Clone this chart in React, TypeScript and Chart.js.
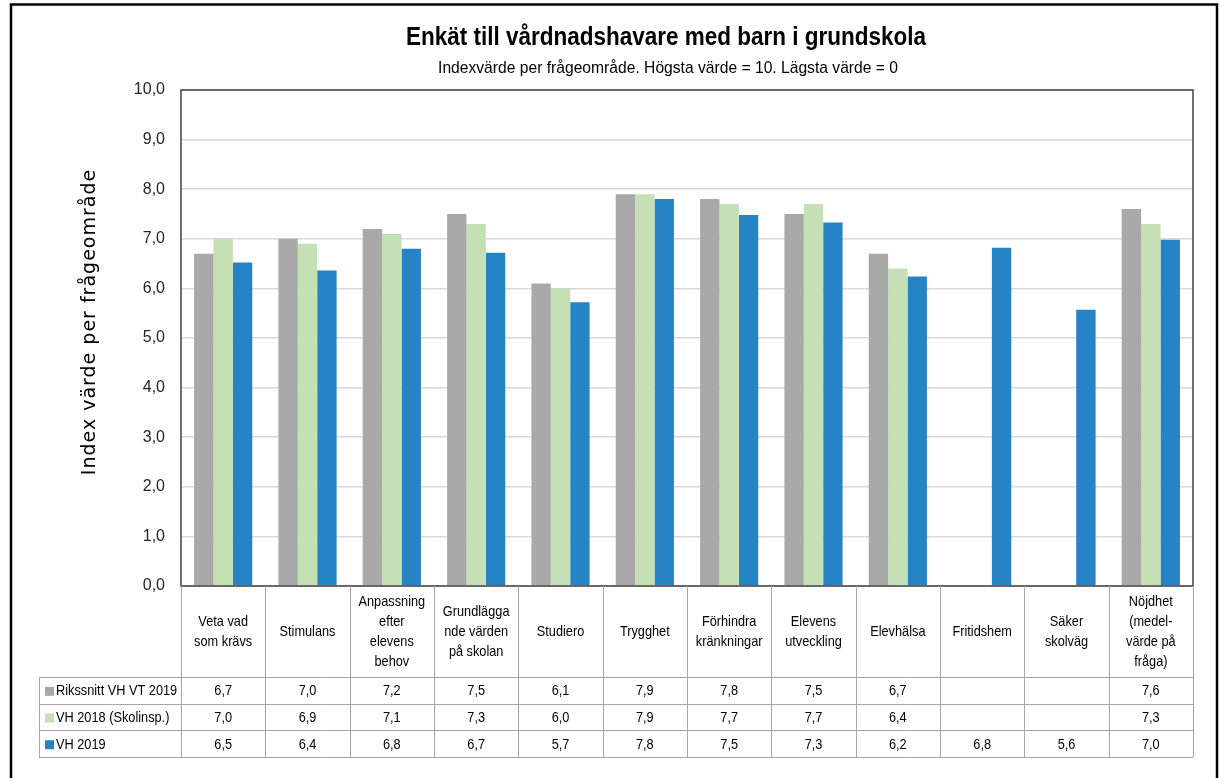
import React, { useEffect, useRef } from "react";
import { Chart, registerables } from "chart.js";

Chart.register(...registerables);

const TITLE = "Enkät till vårdnadshavare med barn i grundskola";
const SUBTITLE = "Indexvärde per frågeområde. Högsta värde = 10. Lägsta värde = 0";
const Y_TITLE = "Index värde per frågeområde";

const categories: string[][] = [
  ["Veta vad", "som krävs"],
  ["Stimulans"],
  ["Anpassning", "efter", "elevens", "behov"],
  ["Grundlägga", "nde värden", "på skolan"],
  ["Studiero"],
  ["Trygghet"],
  ["Förhindra", "kränkningar"],
  ["Elevens", "utveckling"],
  ["Elevhälsa"],
  ["Fritidshem"],
  ["Säker", "skolväg"],
  ["Nöjdhet", "(medel-", "värde på", "fråga)"],
];

const seriesNames = ["Rikssnitt VH VT 2019", "VH 2018 (Skolinsp.)", "VH 2019"];
const rikssnitt: (number | null)[] = [6.7, 7.0, 7.2, 7.5, 6.1, 7.9, 7.8, 7.5, 6.7, null, null, 7.6];
const vh2018: (number | null)[] = [7.0, 6.9, 7.1, 7.3, 6.0, 7.9, 7.7, 7.7, 6.4, null, null, 7.3];
const vh2019: (number | null)[] = [6.52, 6.36, 6.8, 6.72, 5.72, 7.8, 7.48, 7.33, 6.24, 6.82, 5.57, 6.98];
const seriesColors = ["#A9A9A9", "#C5E0B4", "#2683C6"];

const SANS = '"Liberation Sans", Arial, sans-serif';
const fmt = (v: number) => v.toFixed(1).replace(".", ",");

// draws text horizontally condensed (Calibri-like look)
function narrowText(ctx: any, text: string, x: number, y: number, font: string, sx: number, align: string) {
  ctx.save();
  ctx.font = font;
  ctx.textAlign = align;
  ctx.textBaseline = "middle";
  ctx.translate(x, y);
  ctx.scale(sx, 1);
  ctx.fillText(text, 0, 0);
  ctx.restore();
}

const decorPlugin = {
  id: "decor",
  beforeDraw(chart: any) {
    const ctx = chart.ctx;
    ctx.save();
    ctx.fillStyle = "#ffffff";
    ctx.fillRect(0, 0, chart.width, chart.height);
    ctx.restore();
  },
  afterDraw(chart: any) {
    const ctx = chart.ctx;
    const area = chart.chartArea;
    const xs = chart.scales.x;
    const n = categories.length;
    const cw = (area.right - area.left) / n;
    const headTop = area.bottom;
    const headH = 91;
    const rowH = 26.7;
    const tableLeft = 39;
    ctx.save();

    // outer frame
    ctx.strokeStyle = "#000000";
    ctx.lineWidth = 2.5;
    ctx.strokeRect(11, 4.5, 1206, 900);

    // plot border
    ctx.strokeStyle = "#404040";
    ctx.lineWidth = 1.5;
    ctx.strokeRect(area.left, area.top, area.right - area.left, area.bottom - area.top);

    // title
    ctx.fillStyle = "#000000";
    narrowText(ctx, TITLE, 666, 38, `bold 25px ${SANS}`, 0.9, "center");
    narrowText(ctx, SUBTITLE, 668, 68, `17px ${SANS}`, 0.92, "center");

    // y title
    ctx.save();
    ctx.translate(90, 322);
    ctx.rotate(-Math.PI / 2);
    ctx.font = `19px "DejaVu Sans", sans-serif`;
    try {
      (ctx as any).letterSpacing = "1px";
    } catch (e) {}
    ctx.textAlign = "center";
    ctx.textBaseline = "middle";
    ctx.fillStyle = "#000000";
    ctx.fillText(Y_TITLE, 0, 0);
    ctx.restore();
    try {
      (ctx as any).letterSpacing = "0px";
    } catch (e) {}

    // table lines
    ctx.strokeStyle = "#A6A6A6";
    ctx.lineWidth = 1;
    const rowsTop = headTop + headH;
    const bottom = rowsTop + rowH * 3;
    ctx.beginPath();
    for (let i = 0; i <= n; i++) {
      const x = Math.round(xs.getPixelForValue(i) - cw / 2) + 0.5;
      ctx.moveTo(x, headTop);
      ctx.lineTo(x, bottom);
    }
    ctx.moveTo(tableLeft + 0.5, rowsTop);
    ctx.lineTo(tableLeft + 0.5, bottom);
    for (let r = 0; r <= 3; r++) {
      const y = Math.round(rowsTop + r * rowH) + 0.5;
      ctx.moveTo(tableLeft, y);
      ctx.lineTo(area.right, y);
    }
    ctx.stroke();

    // header text
    ctx.fillStyle = "#000000";
    const tf = `15px ${SANS}`;
    const tsx = 0.85;
    const lh = 20;
    categories.forEach((lines, i) => {
      const cx = xs.getPixelForValue(i);
      const cy = headTop + headH / 2;
      lines.forEach((ln, k) => {
        narrowText(ctx, ln, cx, cy + (k - (lines.length - 1) / 2) * lh, tf, tsx, "center");
      });
    });

    // rows
    const allData = [rikssnitt, vh2018, vh2019];
    allData.forEach((arr, r) => {
      const cy = rowsTop + r * rowH + rowH / 2 + 1;
      ctx.fillStyle = seriesColors[r];
      ctx.fillRect(45, cy - 4.5, 9, 9);
      ctx.fillStyle = "#000000";
      narrowText(ctx, seriesNames[r], 56, cy, tf, tsx, "left");
      arr.forEach((v, i) => {
        if (v === null) return;
        narrowText(ctx, fmt(v), xs.getPixelForValue(i), cy, tf, tsx, "center");
      });
    });
    ctx.restore();
  },
};

export default function App() {
  const ref = useRef<HTMLCanvasElement>(null);
  useEffect(() => {
    if (!ref.current) return;
    const chart = new Chart(ref.current, {
      type: "bar",
      data: {
        labels: categories.map((c) => c.join(" ")),
        datasets: [
          { label: seriesNames[0], data: rikssnitt, backgroundColor: seriesColors[0] },
          { label: seriesNames[1], data: vh2018, backgroundColor: seriesColors[1] },
          { label: seriesNames[2], data: vh2019, backgroundColor: seriesColors[2] },
        ],
      },
      options: {
        responsive: false,
        animation: false,
        devicePixelRatio: 1,
        layout: { padding: { top: 90, right: 31, bottom: 21, left: 0 } },
        datasets: { bar: { categoryPercentage: 0.69, barPercentage: 1.0 } },
        plugins: { legend: { display: false }, tooltip: { enabled: false }, title: { display: false } },
        scales: {
          x: {
            ticks: { display: false },
            grid: { display: false },
            border: { display: false },
            afterFit: (s: any) => {
              s.height = 171;
            },
          },
          y: {
            min: 0,
            max: 10,
            ticks: {
              stepSize: 1,
              padding: 16,
              color: "#262626",
              font: { family: SANS, size: 16 },
              callback: (v: any) => fmt(Number(v)),
            },
            grid: { color: "#D9D9D9", lineWidth: 1.5, drawTicks: false },
            border: { display: false },
            afterFit: (s: any) => {
              s.width = 181;
            },
          },
        },
      },
      plugins: [decorPlugin],
    });
    return () => chart.destroy();
  }, []);
  return (
    <div style={{ position: "fixed", left: 0, top: 0, width: 1224, height: 778 }}>
      <canvas ref={ref} width={1224} height={778} style={{ width: 1224, height: 778, display: "block" }} />
    </div>
  );
}
